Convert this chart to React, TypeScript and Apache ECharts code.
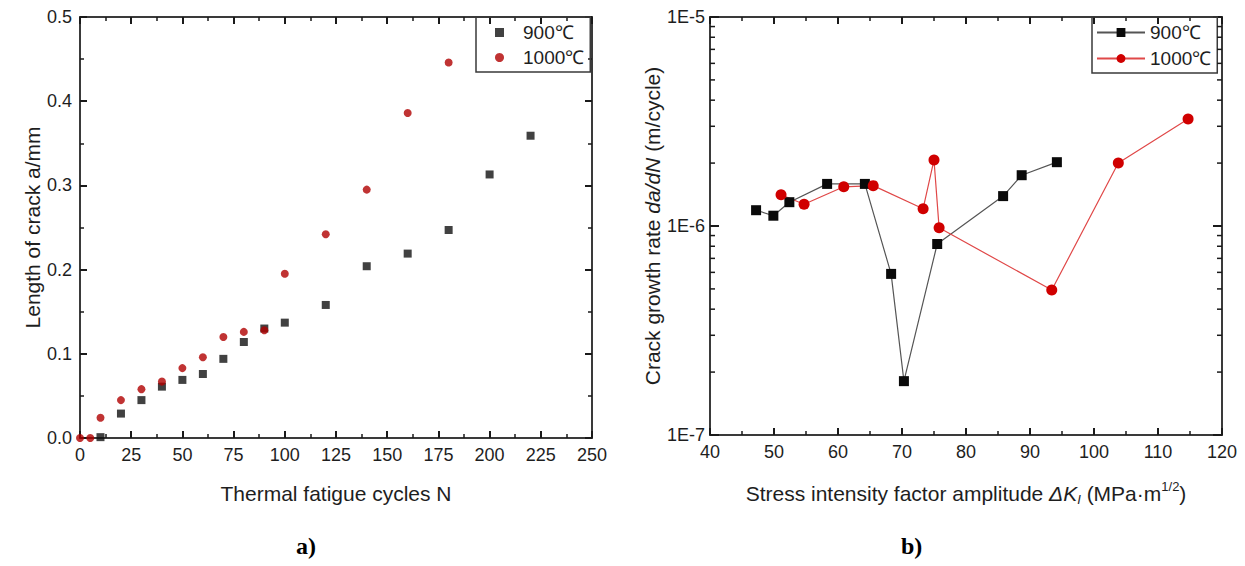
import React, { useEffect, useRef } from "react";
import * as echarts from "echarts";

// ---- Panel a) : crack length vs thermal fatigue cycles ----
const cycles900 = [10, 20, 30, 40, 50, 60, 70, 80, 90, 100, 120, 140, 160, 180, 200, 220];
const len900 = [0.001, 0.029, 0.045, 0.061, 0.069, 0.076, 0.094, 0.114, 0.130, 0.137, 0.158, 0.204, 0.219, 0.247, 0.313, 0.359];
const cycles1000 = [0, 5, 10, 20, 30, 40, 50, 60, 70, 80, 90, 100, 120, 140, 160, 180];
const len1000 = [0, 0, 0.024, 0.045, 0.058, 0.067, 0.083, 0.096, 0.120, 0.126, 0.128, 0.195, 0.242, 0.295, 0.386, 0.446];

// ---- Panel b) : crack growth rate vs stress intensity factor amplitude ----
const dk900 = [47.2, 49.9, 52.4, 58.3, 64.2, 68.3, 70.3, 75.5, 85.8, 88.7, 94.2];
const rate900 = [1.19e-6, 1.12e-6, 1.3e-6, 1.59e-6, 1.59e-6, 5.9e-7, 1.81e-7, 8.2e-7, 1.39e-6, 1.75e-6, 2.02e-6];
const dk1000 = [51.1, 54.7, 60.9, 65.5, 73.3, 75.0, 75.8, 93.4, 103.8, 114.7];
const rate1000 = [1.41e-6, 1.27e-6, 1.54e-6, 1.56e-6, 1.21e-6, 2.07e-6, 9.8e-7, 4.94e-7, 2.0e-6, 3.25e-6];

// minor ticks of the logarithmic axis
const logMinorTicks = [2e-7, 3e-7, 4e-7, 5e-7, 6e-7, 7e-7, 8e-7, 9e-7, 2e-6, 3e-6, 4e-6, 5e-6, 6e-6, 7e-6, 8e-6, 9e-6];

const labels = { a: "a)", b: "b)" };

const FONT = "Liberation Sans, Arial, sans-serif";
const AXIS_COLOR = "#3a3a3a";
const TICK_COLOR = "#1a1a1a";
const TEXT_COLOR = "#1e1e1e";

function zip(xs: number[], ys: number[]) {
  return xs.map((x, i) => [x, ys[i]]);
}

const axLine = () => ({ show: true, onZero: false, lineStyle: { color: AXIS_COLOR, width: 2 } });
const axTick = (len = 7) => ({ show: true, inside: true, length: len, lineStyle: { color: TICK_COLOR, width: 2 } });
const axMinor = () => ({ show: true, splitNumber: 2, length: 4, lineStyle: { color: TICK_COLOR, width: 1.5 } });

export default function App() {
  const ref = useRef<HTMLDivElement>(null);

  useEffect(() => {
    if (!ref.current) return;
    const chart = echarts.init(ref.current, null, { renderer: "svg" });

    const lbl = () => ({ fontSize: 18, fontFamily: FONT, color: TEXT_COLOR, margin: 8 });
    const nameStyle = { fontSize: 21, fontFamily: FONT, color: TEXT_COLOR };

    const option: any = {
      animation: false,
      backgroundColor: "#fff",
      grid: [
        { left: 80, top: 17, width: 512, height: 421 },
        { left: 710, top: 17, width: 512, height: 418 },
      ],
      xAxis: [
        {
          gridIndex: 0, type: "value", position: "bottom", min: 0, max: 250, interval: 25,
          axisLine: axLine(), axisTick: axTick(), minorTick: axMinor(), splitLine: { show: false },
          axisLabel: lbl(),
          name: "Thermal fatigue cycles N", nameLocation: "middle", nameGap: 45, nameTextStyle: nameStyle,
        },
        {
          gridIndex: 0, type: "value", position: "top", min: 0, max: 250, interval: 25,
          axisLine: axLine(), axisTick: axTick(), minorTick: axMinor(), splitLine: { show: false }, axisLabel: { show: false },
        },
        {
          gridIndex: 1, type: "value", position: "bottom", min: 40, max: 120, interval: 10,
          axisLine: axLine(), axisTick: axTick(), minorTick: axMinor(), splitLine: { show: false },
          axisLabel: lbl(),
          name: "{n|Stress intensity factor amplitude }{i|ΔK}{sub|I}{n| (MPa·m}{sup|1/2}{n|)}",
          nameLocation: "middle", nameGap: 45,
          nameTextStyle: {
            ...nameStyle,
            rich: {
              n: { fontSize: 21, fontFamily: FONT, color: TEXT_COLOR, lineHeight: 26, verticalAlign: "middle" },
              i: { fontSize: 21, fontFamily: FONT, color: TEXT_COLOR, fontStyle: "italic", lineHeight: 26, verticalAlign: "middle" },
              sub: { fontSize: 13, fontFamily: FONT, color: TEXT_COLOR, fontStyle: "italic", lineHeight: 26, verticalAlign: "bottom" },
              sup: { fontSize: 13, fontFamily: FONT, color: TEXT_COLOR, lineHeight: 26, verticalAlign: "top" },
            },
          },
        },
        {
          gridIndex: 1, type: "value", position: "top", min: 40, max: 120, interval: 10,
          axisLine: axLine(), axisTick: axTick(), minorTick: axMinor(), splitLine: { show: false }, axisLabel: { show: false },
        },
      ],
      yAxis: [
        {
          gridIndex: 0, type: "value", position: "left", min: 0, max: 0.5, interval: 0.1,
          axisLine: axLine(), axisTick: axTick(), minorTick: axMinor(), splitLine: { show: false },
          axisLabel: { ...lbl(), formatter: (v: number) => v.toFixed(1) },
          name: "Length of crack a/mm", nameLocation: "middle", nameGap: 37, nameTextStyle: nameStyle,
        },
        {
          gridIndex: 0, type: "value", position: "right", min: 0, max: 0.5, interval: 0.1,
          axisLine: axLine(), axisTick: axTick(), minorTick: axMinor(), splitLine: { show: false }, axisLabel: { show: false },
        },
        {
          gridIndex: 1, type: "log", logBase: 10, position: "left", min: 1e-7, max: 1e-5,
          axisLine: axLine(), axisTick: axTick(9), splitLine: { show: false },
          axisLabel: { ...lbl(), margin: 5, formatter: (v: number) => "1E" + Math.round(Math.log10(v)) },
          name: "{n|Crack growth rate }{i|da/dN}{n| (m/cycle)}",
          nameLocation: "middle", nameGap: 46,
          nameTextStyle: {
            ...nameStyle,
            rich: {
              n: { fontSize: 21, fontFamily: FONT, color: TEXT_COLOR },
              i: { fontSize: 21, fontFamily: FONT, color: TEXT_COLOR, fontStyle: "italic" },
            },
          },
        },
        {
          gridIndex: 1, type: "log", logBase: 10, position: "right", min: 1e-7, max: 1e-5,
          axisLine: axLine(), axisTick: axTick(9), splitLine: { show: false }, axisLabel: { show: false },
        },
      ],
      legend: [
        {
          left: 476, top: 17, orient: "vertical",
          data: ["900℃", "1000℃"],
          borderColor: AXIS_COLOR, borderWidth: 1.5, borderRadius: 0,
          padding: [6, 6, 5, 19], itemGap: 6, itemWidth: 9, itemHeight: 9,
          textStyle: { fontSize: 19, fontFamily: FONT, color: TEXT_COLOR, padding: [0, 0, 0, 14] },
          selectedMode: false,
        },
        {
          left: 1092, top: 17, orient: "vertical",
          data: ["900℃ ", "1000℃ "],
          formatter: (n: string) => n.trim(),
          borderColor: AXIS_COLOR, borderWidth: 1.5, borderRadius: 0,
          padding: [6, 6, 5, 4], itemGap: 7, itemWidth: 48, itemHeight: 11,
          textStyle: { fontSize: 19, fontFamily: FONT, color: TEXT_COLOR },
          selectedMode: false,
        },
      ],
      series: [
        {
          name: "900℃", type: "scatter", xAxisIndex: 0, yAxisIndex: 0,
          symbol: "rect", symbolSize: 8, itemStyle: { color: "#111" },
          data: zip(cycles900, len900),
        },
        {
          name: "1000℃", type: "scatter", xAxisIndex: 0, yAxisIndex: 0,
          symbol: "circle", symbolSize: 8, itemStyle: { color: "#b00000" },
          data: zip(cycles1000, len1000),
        },
        {
          name: "900℃ ", type: "line", xAxisIndex: 2, yAxisIndex: 2,
          symbol: "rect", symbolSize: 10, showAllSymbol: true,
          itemStyle: { color: "#0a0a0a" }, lineStyle: { color: "#555", width: 1.2 },
          data: zip(dk900, rate900),
        },
        {
          name: "1000℃ ", type: "line", xAxisIndex: 2, yAxisIndex: 2,
          symbol: "circle", symbolSize: 11, showAllSymbol: true,
          itemStyle: { color: "#d00000" }, lineStyle: { color: "#e04848", width: 1.2 },
          data: zip(dk1000, rate1000),
        },
        {
          type: "custom", xAxisIndex: 2, yAxisIndex: 2, silent: true, clip: false, z: 10,
          data: logMinorTicks.map((v) => [40, v]),
          encode: { x: 0, y: 1 },
          renderItem: (params: any, api: any) => {
            const v = api.value(1);
            const pl = api.coord([40, v]);
            const pr = api.coord([120, v]);
            return {
              type: "group",
              children: [
                { type: "rect", shape: { x: pl[0], y: pl[1] - 0.75, width: 5, height: 1.5 }, style: { fill: TICK_COLOR } },
                { type: "rect", shape: { x: pr[0] - 5, y: pr[1] - 0.75, width: 5, height: 1.5 }, style: { fill: TICK_COLOR } },
              ],
            };
          },
        },
      ],
      graphic: [
        {
          type: "text", left: 296, top: 534,
          style: { text: labels.a, font: "bold 24px 'Liberation Serif', 'Times New Roman', serif", fill: "#000" },
        },
        {
          type: "text", left: 901, top: 534,
          style: { text: labels.b, font: "bold 24px 'Liberation Serif', 'Times New Roman', serif", fill: "#000" },
        },
      ],
    };

    chart.setOption(option);
    return () => chart.dispose();
  }, []);

  return (
    <div
      ref={ref}
      style={{ position: "fixed", left: 0, top: 0, width: 1245, height: 566, background: "#fff" }}
    />
  );
}
